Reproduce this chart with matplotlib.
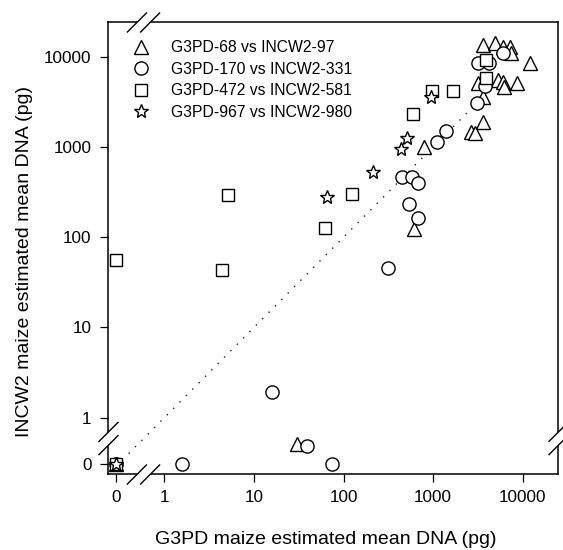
import numpy as np
import matplotlib
matplotlib.use("Agg")
import matplotlib.pyplot as plt
from matplotlib.path import Path

plt.rcParams['font.family'] = ['Liberation Sans', 'DejaVu Sans']

# ---------------- data (pg) ----------------
tri_x = [0, 3630, 4910, 6070, 7210, 12050, 3190, 5340, 6070, 6230, 8570, 3630, 3580, 2630, 2937, 797, 612, 30, 7400]
tri_y = [0, 13460, 14070, 12900, 12900, 8450, 5070, 5520, 5290, 4580, 5070, 3600, 1905, 1476, 1417, 1007, 122, 0.51, 11000]

cir_x = [0, 6070, 3145, 4200, 3800, 3070, 1380, 1097, 445, 577, 684, 538, 673, 316, 15.8, 39.5, 1.59, 75]
cir_y = [0, 10900, 8450, 8450, 4700, 3050, 1514, 1143, 468, 461, 395, 231, 164, 46, 1.91, 0.49, 0, 0]

sq_x = [0, 0, 5.2, 4.4, 62, 125, 592, 980, 1656, 3865, 3865]
sq_y = [0, 56, 292, 43, 126, 299, 2317, 4200, 4200, 9190, 5770]

st_x = [0, 66, 215, 435, 515, 948]
st_y = [0, 277, 524, 949, 1247, 3600]

labels = ['G3PD-68 vs INCW2-97', 'G3PD-170 vs INCW2-331',
          'G3PD-472 vs INCW2-581', 'G3PD-967 vs INCW2-980']
tick_vals = [0, 1, 10, 100, 1000, 10000]
tick_labels = ['0', '1', '10', '100', '1000', '10000']
ref_line = [0.4, 4000]

# ---------------- broken log scale (zero shown separately) ----------------
ZX, ZY = -0.542, -0.513


def make_scale(z):
    t = 10 ** z
    k = 1e-3

    def fwd(v):
        v = np.asarray(v, dtype=float)
        big = v >= t
        out = np.empty_like(v)
        out[big] = np.log10(v[big])
        out[~big] = z - k * (t - v[~big])
        return out

    def inv(u):
        u = np.asarray(u, dtype=float)
        big = u >= z
        out = np.empty_like(u)
        out[big] = 10 ** u[big]
        out[~big] = t - (z - u[~big]) / k
        return out
    return fwd, inv


fx, ix = make_scale(ZX)
fy, iy = make_scale(ZY)

W, H, DPI = 563, 550, 100
fig = plt.figure(figsize=(W / DPI, H / DPI), dpi=DPI)
ax = fig.add_axes([107.7 / W, (H - 474) / H, 450 / W, 452.3 / H])
ax.set_xscale('function', functions=(fx, ix))
ax.set_yscale('function', functions=(fy, iy))
ax.set_xlim(ix(np.array([-0.632]))[0], ix(np.array([4.39]))[0])
ax.set_ylim(iy(np.array([-0.624]))[0], iy(np.array([4.388]))[0])

ax.set_xticks(tick_vals)
ax.set_xticklabels(tick_labels)
ax.set_yticks(tick_vals)
ax.set_yticklabels(tick_labels)
ax.minorticks_off()
ax.tick_params(direction='out', length=5.5, width=0.9, labelsize=12.3, pad=6, colors='black')
for s in ax.spines.values():
    s.set_linewidth(1.1)

# 1:1 reference line
ax.plot(ref_line, ref_line, linestyle=(0, (1, 5.5)), color='#222222', lw=1.0, zorder=1)

ms = 9.5
kw = dict(linestyle='none', markerfacecolor='white', markeredgecolor='black', markeredgewidth=1.0, clip_on=False)
ax.plot(tri_x, tri_y, marker='^', markersize=ms, label=labels[0], zorder=3, **kw)
ax.plot(cir_x, cir_y, marker='o', markersize=ms, label=labels[1], zorder=4, **kw)
ax.plot(sq_x, sq_y, marker='s', markersize=ms - 1, label=labels[2], zorder=5, **kw)
ax.plot(st_x, st_y, marker='*', markersize=ms + 0.5, label=labels[3], zorder=6, **kw)

# ---------------- axis break marks ----------------
def brk(horizontal):
    h, d = 6.6, 10.0
    if horizontal:
        slashes = Path([(-h - d, -d), (-h + d, d), (h - d, -d), (h + d, d)],
                       [Path.MOVETO, Path.LINETO, Path.MOVETO, Path.LINETO])
        fill = Path([(-h - d, -d), (-h + d, d), (h + d, d), (h - d, -d), (-h - d, -d)],
                    [Path.MOVETO, Path.LINETO, Path.LINETO, Path.LINETO, Path.CLOSEPOLY])
    else:
        slashes = Path([(-d, h - d), (d, h + d), (-d, -h - d), (d, -h + d)],
                       [Path.MOVETO, Path.LINETO, Path.MOVETO, Path.LINETO])
        fill = Path([(-d, h - d), (d, h + d), (d, -h + d), (-d, -h - d), (-d, h - d)],
                    [Path.MOVETO, Path.LINETO, Path.LINETO, Path.LINETO, Path.CLOSEPOLY])
    size = 2 * (h + d) * 72 / DPI
    return slashes, fill, size


BX, BY = 0.585, 0.595
tx = ax.get_xaxis_transform()
ty = ax.get_yaxis_transform()
sl, fl, sz = brk(True)
for yy in (0, 1):
    ax.plot([BX], [yy], transform=tx, marker=fl, markersize=sz, markerfacecolor='white',
            markeredgecolor='none', clip_on=False, zorder=10)
    ax.plot([BX], [yy], transform=tx, marker=sl, markersize=sz, markerfacecolor='none',
            markeredgecolor='black', markeredgewidth=1.0, clip_on=False, zorder=11)
sl, fl, sz = brk(False)
for xx in (0, 1):
    ax.plot([xx], [BY], transform=ty, marker=fl, markersize=sz, markerfacecolor='white',
            markeredgecolor='none', clip_on=False, zorder=10)
    ax.plot([xx], [BY], transform=ty, marker=sl, markersize=sz, markerfacecolor='none',
            markeredgecolor='black', markeredgewidth=1.0, clip_on=False, zorder=11)

ax.set_xlabel('G3PD maize estimated mean DNA (pg)', fontsize=14, labelpad=18.5)
ax.xaxis.label.set_x(0.485)
ax.set_ylabel('INCW2 maize estimated mean DNA (pg)', fontsize=14, labelpad=8)
ax.yaxis.label.set_y(0.47)

ax.legend(loc='upper left', bbox_to_anchor=(0.039, 0.973), frameon=False, fontsize=11.3,
          handletextpad=1.3, labelspacing=0.42, borderaxespad=0.0, handlelength=1.2)

fig.savefig('out.png', dpi=DPI)
